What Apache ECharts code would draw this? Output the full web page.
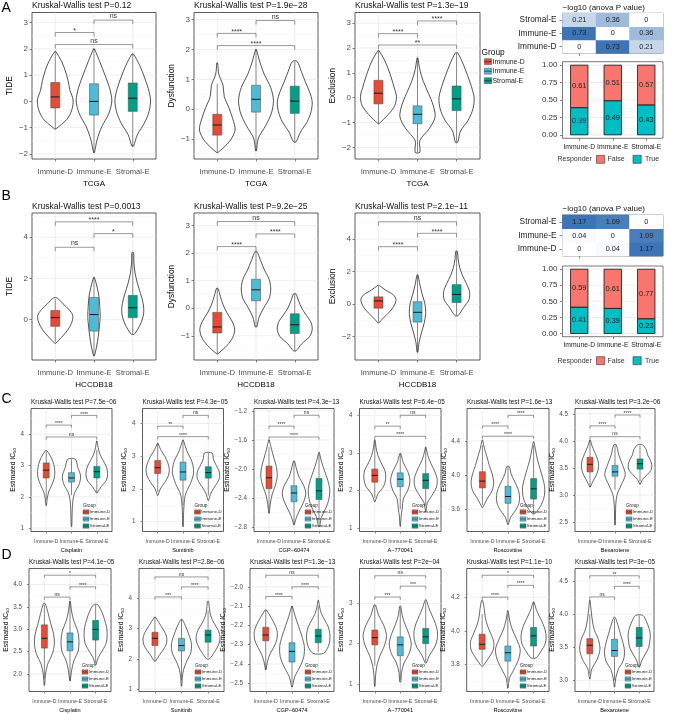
<!DOCTYPE html>
<html><head><meta charset="utf-8">
<script src="https://cdn.jsdelivr.net/npm/echarts@6/dist/echarts.min.js"></script>
<style>html,body{margin:0;padding:0;background:#fff}#c{width:678px;height:714px}</style>
</head><body><div id="c"></div>
<script>
// ---------------- DATA ----------------
const groups = ['Immune-D', 'Immune-E', 'Stromal-E'];
const datasetA = 'TCGA';
const datasetB = 'HCCDB18';
const yNamesAB = ['TIDE', 'Dysfunction', 'Exclusion'];
const titlesA = ['Kruskal-Wallis test P=0.12', 'Kruskal-Wallis test P=1.9e\u221228', 'Kruskal-Wallis test P=1.3e\u221219'];
const titlesB = ['Kruskal-Wallis test P=0.0013', 'Kruskal-Wallis test P=9.2e\u221225', 'Kruskal-Wallis test P=2.1e\u221211'];
const drugs = ['Cisplatin', 'Sunitinib', 'CGP\u221260474', 'A\u2212770041', 'Roscovitine', 'Bexarotene'];
const titlesC = ['Kruskal-Wallis test P=7.5e\u221206', 'Kruskal-Wallis test P=4.3e\u221205', 'Kruskal-Wallis test P=4.3e\u221213', 'Kruskal-Wallis test P=6.4e\u221205', 'Kruskal-Wallis test P=1.6e\u221213', 'Kruskal-Wallis test P=3.2e\u221206'];
const titlesD = ['Kruskal-Wallis test P=4.1e\u221205', 'Kruskal-Wallis test P=2.8e\u221206', 'Kruskal-Wallis test P=1.3e\u221213', 'Kruskal-Wallis test P=2e\u221204', 'Kruskal-Wallis test P=1.1e\u221210', 'Kruskal-Wallis test P=3e\u221205'];

// y tick values, decimals, y ranges
const ticksA = [[-2,-1,0,1,2,3], [-1,0,1,2,3], [-2,-1,0,1,2,3]];
const decA = [0,0,0];
const rangesA = [[-2.19,3.38], [-1.67,3.24], [-2.47,3.43]];
const ticksB = [[0,2,4], [-1,0,1,2,3], [-2,0,2,4]];
const decB = [0,0,0];
const rangesB = [[-1.95,5.17], [-1.88,3.46], [-3.43,5.6]];
const ticksC = [[1,2,3,4], [1,2,3,4], [-2.8,-2.4,-2.0,-1.6,-1.2], [1,2,3,4], [3.6,4.0,4.4], [2.5,3.0,3.5,4.0,4.5]];
const decC = [0,0,1,0,1,1];
const rangesC = [[0.89,4.82], [0.7,4.46], [-2.86,-1.167], [0.91,4.18], [3.34,4.78], [2.33,4.6]];
const ticksD = [[2.0,2.5,3.0,3.5,4.0], [1,2,3,4], [-2.5,-2.4,-2.3,-2.2,-2.1,-2.0], [1,2,3], [3.8,4.0,4.2], [3.0,3.5,4.0,4.5]];
const decD = [1,0,1,0,1,1];
const rangesD = [[1.61,4.36], [0.92,4.99], [-2.543,-1.905], [0.81,3.87], [3.64,4.37], [2.83,4.69]];

// violins: [group (1..3), ymin, ymax, half-widths at evenly spaced levels from ymin to ymax]
const violinsA = [
  [[1,-1.05,1.9,[0.01,0.3,0.43,0.46,0.38,0.33,0.26,0.16,0.01]],
   [2,-1.95,2.0,[0.01,0.08,0.2,0.38,0.46,0.4,0.28,0.15,0.01]],
   [3,-1.7,1.8,[0.02,0.12,0.3,0.42,0.46,0.4,0.3,0.18,0.02]]],
  [[1,-1.45,1.55,[0.02,0.32,0.46,0.4,0.3,0.18,0.15,0.04,0.01]],
   [2,-1.4,2.0,[0.01,0.06,0.25,0.4,0.45,0.38,0.22,0.1,0.01]],
   [3,-1.1,1.6,[0.03,0.15,0.32,0.42,0.45,0.38,0.27,0.17,0.06]]],
  [[1,-1.05,1.9,[0.01,0.25,0.42,0.46,0.4,0.33,0.25,0.15,0.01]],
   [2,-2.2,1.6,[0.06,0.06,0.3,0.45,0.4,0.28,0.15,0.06,0.01]],
   [3,-1.8,1.8,[0.03,0.1,0.3,0.42,0.45,0.38,0.28,0.17,0.03]]]
];
const violinsB = [
  [[1,-1.15,1.05,[0.01,0.15,0.28,0.38,0.44,0.45,0.35,0.2,0.05]],
   [2,-1.75,2.05,[0.01,0.07,0.11,0.14,0.16,0.15,0.13,0.08,0.01]],
   [3,-0.7,3.25,[0.04,0.2,0.28,0.27,0.2,0.12,0.06,0.03,0.02]]],
  [[1,-1.65,0.72,[0.02,0.25,0.4,0.45,0.38,0.25,0.15,0.08,0.02]],
   [2,-0.67,2.07,[0.02,0.08,0.2,0.34,0.38,0.34,0.22,0.12,0.02]],
   [3,-1.55,0.52,[0.03,0.18,0.38,0.45,0.42,0.3,0.18,0.1,0.03]]],
  [[1,-1.15,1.15,[0.01,0.12,0.24,0.35,0.42,0.45,0.38,0.18,0.02]],
   [2,-2.95,1.8,[0.01,0.04,0.1,0.17,0.21,0.19,0.12,0.06,0.01]],
   [3,-0.7,3.25,[0.04,0.18,0.32,0.33,0.25,0.15,0.08,0.04,0.02]]]
];
const violinsC = [
  [[1,1.72,3.47,[0.01,0.04,0.1,0.22,0.32,0.34,0.3,0.2,0.03]],
   [2,1.05,3.2,[0.01,0.02,0.03,0.05,0.12,0.3,0.36,0.25,0.15]],
   [3,2.12,3.78,[0.01,0.18,0.38,0.43,0.38,0.25,0.12,0.05,0.01]]],
  [[1,1.8,3.4,[0.01,0.1,0.28,0.42,0.46,0.4,0.28,0.12,0.01]],
   [2,0.85,3.5,[0.01,0.02,0.04,0.1,0.3,0.42,0.35,0.15,0.01]],
   [3,1.65,3.1,[0.01,0.08,0.2,0.36,0.45,0.42,0.3,0.2,0.15]]],
  [[1,-2.61,-1.6,[0.01,0.05,0.12,0.25,0.33,0.3,0.2,0.1,0.01]],
   [2,-2.77,-1.89,[0.01,0.1,0.25,0.4,0.47,0.38,0.2,0.1,0.02]],
   [3,-2.79,-1.77,[0.02,0.1,0.28,0.4,0.43,0.35,0.22,0.1,0.01]]],
  [[1,1.7,3.35,[0.01,0.12,0.35,0.43,0.4,0.25,0.12,0.05,0.01]],
   [2,1.05,2.98,[0.01,0.03,0.08,0.12,0.3,0.38,0.3,0.12,0.02]],
   [3,1.45,3.15,[0.01,0.06,0.25,0.42,0.45,0.35,0.2,0.08,0.01]]],
  [[1,3.62,4.41,[0.01,0.18,0.38,0.44,0.38,0.27,0.18,0.08,0.01]],
   [2,3.42,4.1,[0.01,0.1,0.3,0.43,0.45,0.38,0.25,0.12,0.05]],
   [3,3.55,4.39,[0.05,0.3,0.42,0.43,0.35,0.25,0.15,0.08,0.01]]],
  [[1,3.15,4.02,[0.01,0.12,0.25,0.33,0.34,0.28,0.18,0.08,0.01]],
   [2,2.45,3.93,[0.01,0.02,0.03,0.08,0.25,0.41,0.3,0.15,0.05]],
   [3,3.2,3.93,[0.01,0.1,0.3,0.45,0.47,0.4,0.3,0.25,0.1]]]
];
const violinsD = [
  [[1,1.75,3.58,[0.01,0.04,0.12,0.3,0.39,0.36,0.25,0.15,0.03]],
   [2,1.85,3.63,[0.01,0.06,0.15,0.32,0.35,0.3,0.15,0.06,0.01]],
   [3,2.2,3.55,[0.01,0.1,0.28,0.42,0.45,0.43,0.35,0.25,0.08]]],
  [[1,1.92,3.38,[0.02,0.15,0.3,0.42,0.45,0.4,0.28,0.15,0.02]],
   [2,1.1,3.3,[0.01,0.03,0.08,0.2,0.35,0.38,0.3,0.18,0.03]],
   [3,2.0,3.9,[0.05,0.25,0.4,0.45,0.38,0.22,0.1,0.05,0.02]]],
  [[1,-2.43,-2.12,[0.01,0.06,0.15,0.3,0.42,0.44,0.35,0.2,0.02]],
   [2,-2.52,-2.1,[0.01,0.1,0.3,0.45,0.47,0.38,0.25,0.12,0.01]],
   [3,-2.345,-2.07,[0.2,0.38,0.44,0.44,0.38,0.25,0.12,0.05,0.01]]],
  [[1,0.94,2.96,[0.01,0.03,0.08,0.2,0.38,0.46,0.35,0.15,0.03]],
   [2,1.05,2.93,[0.02,0.05,0.15,0.35,0.43,0.35,0.2,0.08,0.02]],
   [3,1.52,3.09,[0.02,0.15,0.35,0.45,0.46,0.38,0.25,0.12,0.02]]],
  [[1,3.79,4.18,[0.02,0.25,0.43,0.45,0.33,0.2,0.12,0.08,0.02]],
   [2,3.66,4.12,[0.01,0.06,0.25,0.42,0.48,0.35,0.18,0.07,0.01]],
   [3,3.84,4.17,[0.1,0.3,0.45,0.49,0.45,0.35,0.22,0.1,0.02]]],
  [[1,3.02,4.21,[0.01,0.08,0.3,0.41,0.35,0.18,0.1,0.05,0.01]],
   [2,2.9,3.95,[0.01,0.05,0.15,0.35,0.41,0.35,0.25,0.15,0.03]],
   [3,3.2,3.98,[0.02,0.1,0.25,0.38,0.43,0.45,0.4,0.3,0.15]]]
];

// boxes: [group, lower whisker, q1, median, q3, upper whisker]
const boxesA = [
  [[1,-1.05,-0.25,0.17,0.72,1.9],[2,-1.95,-0.52,0.0,0.67,2.0],[3,-1.7,-0.38,0.12,0.7,1.8]],
  [[1,-1.45,-0.87,-0.53,-0.17,0.85],[2,-1.35,-0.1,0.33,0.8,2.0],[3,-1.1,-0.14,0.27,0.77,1.6]],
  [[1,-1.05,-0.25,0.18,0.7,1.9],[2,-2.2,-1.05,-0.67,-0.33,1.6],[3,-1.8,-0.52,-0.05,0.47,1.8]]
];
const boxesB = [
  [[1,-1.1,-0.32,0.1,0.45,1.0],[2,-1.75,-0.55,0.25,1.08,2.05],[3,-0.7,0.1,0.58,1.18,3.2]],
  [[1,-1.65,-0.9,-0.68,-0.15,0.72],[2,-0.67,0.27,0.67,1.05,2.07],[3,-1.55,-0.92,-0.6,-0.2,0.52]],
  [[1,-1.1,-0.25,0.2,0.45,1.1],[2,-2.95,-1.1,-0.5,0.15,1.8],[3,-0.7,0.1,0.6,1.2,3.25]]
];
const boxesC = [
  [[1,1.9,2.6,2.85,3.08,3.45],[2,2.05,2.47,2.6,2.77,3.2],[3,2.15,2.6,2.8,2.97,3.5]],
  [[1,1.9,2.47,2.65,2.87,3.4],[2,1.5,2.27,2.52,2.82,3.45],[3,1.8,2.33,2.5,2.68,3.1]],
  [[1,-2.55,-2.27,-2.12,-1.96,-1.7],[2,-2.75,-2.45,-2.33,-2.23,-1.9],[3,-2.75,-2.42,-2.3,-2.13,-1.8]],
  [[1,1.8,2.22,2.4,2.57,3.3],[2,1.5,2.1,2.3,2.47,2.98],[3,1.6,2.05,2.27,2.45,3.15]],
  [[1,3.65,3.85,3.93,4.04,4.35],[2,3.45,3.67,3.75,3.87,4.1],[3,3.55,3.72,3.84,3.96,4.35]],
  [[1,3.15,3.43,3.57,3.7,4.0],[2,3.1,3.35,3.43,3.55,3.93],[3,3.25,3.48,3.58,3.67,3.92]]
];
const boxesD = [
  [[1,1.9,2.58,2.8,3.1,3.55],[2,1.85,2.52,2.72,2.92,3.6],[3,2.25,2.76,3.0,3.2,3.55]],
  [[1,1.95,2.44,2.68,2.88,3.38],[2,1.3,2.26,2.44,2.68,3.3],[3,2.05,2.55,2.79,2.95,3.6]],
  [[1,-2.43,-2.28,-2.25,-2.21,-2.12],[2,-2.5,-2.39,-2.335,-2.29,-2.1],[3,-2.34,-2.29,-2.255,-2.22,-2.1]],
  [[1,1.45,1.97,2.15,2.34,2.95],[2,1.1,1.7,1.97,2.17,2.9],[3,1.55,2.0,2.17,2.38,3.05]],
  [[1,3.8,3.89,3.92,3.98,4.1],[2,3.7,3.82,3.87,3.91,4.1],[3,3.84,3.91,3.97,4.02,4.17]],
  [[1,3.1,3.4,3.53,3.63,4.0],[2,3.0,3.36,3.45,3.62,3.93],[3,3.2,3.51,3.64,3.8,3.98]]
];

// significance brackets: [group from, group to, y, label]
const bracketsA = [
  [[1,2,2.62,'*'],[2,3,3.09,'ns'],[1,3,2.16,'ns']],
  [[1,2,2.54,'****'],[2,3,2.97,'ns'],[1,3,2.13,'****']],
  [[1,2,2.58,'****'],[2,3,3.09,'****'],[1,3,2.12,'**']]
];
const bracketsB = [
  [[1,3,4.74,'****'],[2,3,4.17,'*'],[1,2,3.51,'ns']],
  [[1,3,3.15,'ns'],[2,3,2.7,'****'],[1,2,2.24,'****']],
  [[1,3,5.06,'ns'],[2,3,4.35,'****'],[1,2,3.53,'****']]
];
const bracketsC = [
  [[1,2,4.29,'****'],[2,3,4.6,'****'],[1,3,3.91,'ns']],
  [[1,2,3.92,'**'],[2,3,4.25,'ns'],[1,3,3.6,'****']],
  [[1,2,-1.41,'****'],[2,3,-1.26,'ns'],[1,3,-1.56,'****']],
  [[1,2,3.71,'**'],[2,3,4.0,'ns'],[1,3,3.44,'****']],
  [[1,2,4.575,'****'],[2,3,4.70,'****'],[1,3,4.455,'****']],
  [[1,2,4.28,'****'],[2,3,4.48,'****'],[1,3,4.08,'ns']]
];
const bracketsD = [
  [[1,3,4.21,'*'],[2,3,3.95,'****'],[1,2,3.72,'ns']],
  [[1,3,4.71,'ns'],[2,3,4.38,'****'],[1,2,4.05,'***']],
  [[1,3,-1.94,'ns'],[2,3,-2.0,'****'],[1,2,-2.05,'****']],
  [[1,3,3.69,'ns'],[2,3,3.43,'***'],[1,2,3.16,'***']],
  [[1,3,4.33,'*'],[2,3,4.27,'****'],[1,2,4.2,'****']],
  [[1,3,4.58,'**'],[2,3,4.42,'****'],[1,2,4.26,'ns']]
];

// -log10(anova P) heatmaps, rows bottom->top = Immune-D, Immune-E, Stromal-E
const heatTitle = '\u2212log10 (anova P value)';
const heatA = [[0,0.73,0.21],[0.73,0,0.36],[0.21,0.36,0]];
const heatB = [[0,0.04,1.17],[0.04,0,1.09],[1.17,1.09,0]];
// responder proportions
const respTrueA = [0.39,0.49,0.43];
const respFalseA = [0.61,0.51,0.57];
const respTrueB = [0.41,0.39,0.23];
const respFalseB = [0.59,0.61,0.77];
const respTicks = [0,0.25,0.5,0.75,1];
const respLevels = ['False','True'];

// ---------------- STYLE / LAYOUT ----------------
const FONT = '"Liberation Sans", Arial, Helvetica, sans-serif';
const GROUP_COLORS = ['#E64B35','#4DBBD5','#00A087'];
const RESP_COLORS = ['#F8766D','#00BFC4'];
const ST_AB = {tick:2.5, lab:7.6, labOff:8.6, xNameGap:20.5, xName:8, yName:8.3, yNameGap:18.5, yLab:8, yMargin:4,
  title:8.5, titleDy:6.5, brFont:7, brDrop:4, boxW:9, vLW:0.8, inLegend:false};
const ST_CD = {tick:2, lab:5.2, labOff:7.6, xNameGap:15.5, xName:5.6, yName:6.8, yNameGap:13, yLab:6.3, yMargin:7,
  title:6.4, titleDy:6, brFont:5, brDrop:2.7, boxW:6, vLW:0.7, inLegend:true};
const rowA = {top:12.5, bottom:159, xs:[[32,156],[194,318],[355,480]]};
const rowB = {top:213, bottom:360, xs:[[32,156],[194,318],[355,480]]};
const rowC = {top:408.5, bottom:531.5, xs:[[31,112],[142.5,223.5],[254,334],[359.5,441],[467,549],[575,655]]};
const rowD = {top:568.5, bottom:691.5, xs:[[29,111],[139,224],[250,334],[359.5,441],[466.7,549],[575,654]]};

const option = {animation:false, backgroundColor:'#ffffff', grid:[], xAxis:[], yAxis:[], series:[], visualMap:[], graphic:[]};
const G = option.graphic;

function txt(x, y, text, size, o) {
  o = o || {};
  G.push({type:'text', x:x, y:y, rotation:o.rotation||0, silent:true, z:100,
    style:{text:text, fontSize:size, fontFamily:FONT, fill:o.color||'#000',
      align:o.align||'left', textAlign:o.align||'left', verticalAlign:o.va||'middle', textVerticalAlign:o.va||'middle'}});
}
function rect(x, y, w, h, fill, stroke, lw) {
  G.push({type:'rect', silent:true, z:100, shape:{x:x, y:y, width:w, height:h}, style:{fill:fill, stroke:stroke||null, lineWidth:lw||0}});
}
function line(x1, y1, x2, y2, stroke, lw) {
  G.push({type:'line', silent:true, z:101, shape:{x1:x1, y1:y1, x2:x2, y2:y2}, style:{stroke:stroke, lineWidth:lw}});
}
function fmtTick(v, dec) { return (v < -1e-9 ? '\u2212' : '') + Math.abs(v).toFixed(dec); }
function minorValues(ticks, range) {
  const step = ticks[1] - ticks[0];
  const mids = [ticks[0] - step/2];
  for (let i = 0; i < ticks.length - 1; i++) mids.push((ticks[i] + ticks[i+1]) / 2);
  mids.push(ticks[ticks.length-1] + step/2);
  return mids.filter(v => v > range[0] && v < range[1]);
}
function gridBg(gi, ticks, range, xs) {
  const minors = minorValues(ticks, range);
  option.series.push({type:'custom', xAxisIndex:gi, yAxisIndex:gi, silent:true, z:1, data:[[xs[0], range[0]]], encode:{x:0, y:1},
    renderItem:function(params, api) {
      const cs = params.coordSys, ch = [];
      minors.forEach(v => { const y = api.coord([xs[0], v])[1];
        ch.push({type:'line', shape:{x1:cs.x, y1:y, x2:cs.x+cs.width, y2:y}, style:{stroke:'#f3f3f3', lineWidth:0.5}}); });
      ticks.forEach(v => { const y = api.coord([xs[0], v])[1];
        ch.push({type:'line', shape:{x1:cs.x, y1:y, x2:cs.x+cs.width, y2:y}, style:{stroke:'#e6e6e6', lineWidth:0.7}}); });
      xs.forEach(c => { const x = api.coord([c, range[0]])[0];
        ch.push({type:'line', shape:{x1:x, y1:cs.y, x2:x, y2:cs.y+cs.height}, style:{stroke:'#e6e6e6', lineWidth:0.7}}); });
      return {type:'group', children:ch};
    }});
}
// category tick labels under a panel, placed through the axis scale
function xLabels(gi, range, font, offset, color) {
  option.series.push({type:'custom', xAxisIndex:gi, yAxisIndex:gi, silent:true, z:5, clip:false,
    data:groups.map((g, i) => [i + 1, range[0]]), encode:{x:0, y:1},
    renderItem:function(params, api) {
      const cs = params.coordSys;
      const x = api.coord([params.dataIndex + 1, range[0]])[0];
      return {type:'text', style:{text:groups[params.dataIndex], x:x, y:cs.y + cs.height + offset, align:'center', textAlign:'center',
        verticalAlign:'top', textVerticalAlign:'top', fontSize:font, fontFamily:FONT, fill:color}};
    }});
}

function addViolinPanel(x0, x1, top, bottom, title, yName, xName, ticks, dec, range, violins, boxes, brackets, st) {
  const gi = option.grid.length;
  option.grid.push({left:x0, top:top, width:x1-x0, height:bottom-top, show:true, borderColor:'#333333', borderWidth:0.8, backgroundColor:'#ffffff'});
  option.xAxis.push({gridIndex:gi, type:'value', min:0.4, max:3.6, position:'bottom',
    axisLine:{show:false, onZero:false}, splitLine:{show:false},
    axisTick:{show:true, length:st.tick, customValues:[1,2,3], lineStyle:{color:'#333', width:0.6}},
    axisLabel:{show:false},
    name:xName, nameLocation:'middle', nameGap:st.xNameGap, nameTextStyle:{fontSize:st.xName, fontFamily:FONT, color:'#000'}});
  const yNameObj = st.inLegend ?
    {name:'{a|Estimated IC}{b|50}', nameTextStyle:{fontFamily:FONT, color:'#000', rich:{a:{fontSize:st.yName, fontFamily:FONT}, b:{fontSize:st.yName*0.62, fontFamily:FONT, verticalAlign:'bottom', padding:[st.yName*0.45,0,0,0]}}}} :
    {name:yName, nameTextStyle:{fontSize:st.yName, fontFamily:FONT, color:'#000'}};
  option.yAxis.push(Object.assign({gridIndex:gi, type:'value', min:range[0], max:range[1],
    axisLine:{show:false, onZero:false}, splitLine:{show:false},
    axisTick:{show:true, length:st.tick, customValues:ticks, lineStyle:{color:'#333', width:0.6}},
    axisLabel:{show:true, customValues:ticks, showMinLabel:true, showMaxLabel:true, hideOverlap:false,
      formatter:v => fmtTick(v, dec), fontSize:st.yLab, fontFamily:FONT, color:'#4d4d4d', margin:st.yMargin},
    nameLocation:'middle', nameGap:st.yNameGap}, yNameObj));
  gridBg(gi, ticks, range, [1,2,3]);
  xLabels(gi, range, st.lab, st.labOff, '#4d4d4d');
  // violins
  option.series.push({type:'custom', xAxisIndex:gi, yAxisIndex:gi, silent:true, z:2,
    data:violins.map(v => [v[0], v[1], v[2]]), encode:{x:0, y:[1,2]},
    renderItem:function(params, api) {
      const v = violins[params.dataIndex], w = v[3], n = w.length;
      const unit = api.size([1, 0])[0];
      const right = [], left = [];
      for (let k = 0; k < n; k++) {
        const pt = api.coord([v[0], v[1] + (v[2]-v[1]) * k / (n-1)]);
        right.push([pt[0] + w[k]*unit, pt[1]]);
        left.push([pt[0] - w[k]*unit, pt[1]]);
      }
      return {type:'polygon', shape:{points:right.concat(left.reverse()), smooth:0.3},
        style:{fill:'#ffffff', stroke:'#262626', lineWidth:st.vLW}};
    }});
  // boxes
  option.series.push({type:'custom', xAxisIndex:gi, yAxisIndex:gi, silent:true, z:3,
    data:boxes.map(b => [b[0], b[1], b[5]]), encode:{x:0, y:[1,2]},
    renderItem:function(params, api) {
      const b = boxes[params.dataIndex];
      const x = api.coord([b[0], b[3]])[0];
      const yy = b.slice(1).map(v => api.coord([b[0], v])[1]);
      const hw = st.boxW / 2;
      return {type:'group', children:[
        {type:'line', shape:{x1:x, y1:yy[0], x2:x, y2:yy[1]}, style:{stroke:'#333', lineWidth:0.6}},
        {type:'line', shape:{x1:x, y1:yy[3], x2:x, y2:yy[4]}, style:{stroke:'#333', lineWidth:0.6}},
        {type:'rect', shape:{x:x-hw, y:yy[3], width:st.boxW, height:yy[1]-yy[3]}, style:{fill:GROUP_COLORS[b[0]-1], stroke:'#444', lineWidth:0.5}},
        {type:'line', shape:{x1:x-hw, y1:yy[2], x2:x+hw, y2:yy[2]}, style:{stroke:'#1a1a1a', lineWidth:1}}
      ]};
    }});
  // brackets
  option.series.push({type:'custom', xAxisIndex:gi, yAxisIndex:gi, silent:true, z:4,
    data:brackets.map(b => [b[0], b[2]]), encode:{x:0, y:1},
    renderItem:function(params, api) {
      const b = brackets[params.dataIndex];
      const p1 = api.coord([b[0], b[2]]), p2 = api.coord([b[1], b[2]]);
      const star = b[3].indexOf('*') >= 0;
      return {type:'group', children:[
        {type:'polyline', shape:{points:[[p1[0], p1[1]+st.brDrop], [p1[0], p1[1]], [p2[0], p2[1]], [p2[0], p2[1]+st.brDrop]]}, style:{stroke:'#555', lineWidth:0.6, fill:null}},
        {type:'text', style:{text:b[3], x:(p1[0]+p2[0])/2, y:p1[1] + (star ? st.brFont*0.25 : -0.3), align:'center', textAlign:'center', verticalAlign:'bottom', textVerticalAlign:'bottom', fontSize:st.brFont, fontFamily:FONT, fill:'#333'}}
      ]};
    }});
  // title
  txt(x0, top - st.titleDy, title, st.title, {color:'#111'});
  // inner legend
  if (st.inLegend) {
    const kx = x1 - 29;
    txt(kx, bottom - 26, 'Group', 4.6, {color:'#222'});
    groups.forEach((g, i) => {
      const yc = bottom - 19.5 + i * 7;
      rect(kx, yc - 2.2, 6, 4.4, GROUP_COLORS[i], '#555', 0.4);
      line(kx, yc, kx + 6, yc, '#222', 0.5);
      txt(kx + 6.8, yc, g, 4.4, {color:'#222'});
    });
  }
}

function addHeatmap(x0, x1, top, bottom, vals, maxV) {
  const gi = option.grid.length;
  option.grid.push({left:x0, top:top, width:x1-x0, height:bottom-top, show:true, borderColor:'#555', borderWidth:0.8, backgroundColor:'#ffffff'});
  option.xAxis.push({gridIndex:gi, type:'category', data:groups, axisLine:{show:false, onZero:false},
    axisTick:{show:true, length:2.5, alignWithLabel:true, lineStyle:{color:'#333', width:0.6}}, axisLabel:{show:false}, splitLine:{show:false}});
  option.yAxis.push({gridIndex:gi, type:'category', data:groups, axisLine:{show:false, onZero:false},
    axisTick:{show:true, length:3, alignWithLabel:true, lineStyle:{color:'#333', width:0.6}},
    axisLabel:{fontSize:8.3, fontFamily:FONT, color:'#222', margin:6, interval:0}, splitLine:{show:false}});
  const data = [];
  vals.forEach((row, yi) => row.forEach((v, xi) => data.push([xi, yi, v])));
  const si = option.series.length;
  option.series.push({type:'heatmap', xAxisIndex:gi, yAxisIndex:gi, data:data, silent:true,
    label:{show:true, formatter:p => (p.value[2] === 0 ? '0' : p.value[2].toFixed(2)), fontSize:7.3, fontFamily:FONT, color:'#222'},
    itemStyle:{borderWidth:0}, emphasis:{disabled:true}});
  option.visualMap.push({show:false, type:'continuous', seriesIndex:si, dimension:2, min:0, max:maxV, inRange:{color:['#ffffff','#3c74b6']}});
  txt(x0, top - 6, heatTitle, 8, {color:'#111'});
}

function addResponder(x0, x1, top, bottom, trueV, falseV, legendY) {
  const gi = option.grid.length;
  const range = [-0.05, 1.05];
  option.grid.push({left:x0, top:top, width:x1-x0, height:bottom-top, show:true, borderColor:'#555', borderWidth:0.8, backgroundColor:'#ffffff'});
  option.xAxis.push({gridIndex:gi, type:'value', min:0.5, max:3.5, axisLine:{show:false, onZero:false}, splitLine:{show:false},
    axisTick:{show:true, length:2.5, customValues:[1,2,3], lineStyle:{color:'#333', width:0.6}},
    axisLabel:{show:false}});
  option.yAxis.push({gridIndex:gi, type:'value', min:range[0], max:range[1], axisLine:{show:false, onZero:false}, splitLine:{show:false},
    axisTick:{show:true, length:2.5, customValues:respTicks, lineStyle:{color:'#333', width:0.6}},
    axisLabel:{customValues:respTicks, showMinLabel:true, showMaxLabel:true, hideOverlap:false,
      formatter:v => v.toFixed(2), fontSize:8, fontFamily:FONT, color:'#333', margin:5}});
  gridBg(gi, respTicks, range, [1,2,3]);
  xLabels(gi, range, 6.8, 5, '#222');
  option.series.push({type:'custom', xAxisIndex:gi, yAxisIndex:gi, silent:true, z:3,
    data:trueV.map((t, i) => [i+1, t]), encode:{x:0, y:1},
    renderItem:function(params, api) {
      const i = params.dataIndex, c = i + 1, t = trueV[i], f = falseV[i];
      const half = api.size([0.26, 0])[0];
      const x = api.coord([c, 0])[0];
      const y0 = api.coord([c, 0])[1], yt = api.coord([c, t])[1], yf = api.coord([c, t + f])[1];
      const mk = (yA, yB, col) => ({type:'rect', shape:{x:x-half, y:yB, width:2*half, height:yA-yB}, style:{fill:col, stroke:'#111', lineWidth:0.8}});
      const lb = (yc, s) => ({type:'text', style:{text:s, x:x, y:yc, align:'center', textAlign:'center', verticalAlign:'middle', textVerticalAlign:'middle', fontSize:7.4, fontFamily:FONT, fill:'#222'}});
      return {type:'group', children:[mk(y0, yt, RESP_COLORS[1]), mk(yt, yf, RESP_COLORS[0]), lb((y0+yt)/2, t.toFixed(2)), lb((yt+yf)/2, f.toFixed(2))]};
    }});
  // legend
  txt(557.5, legendY, 'Responder', 7, {color:'#333'});
  rect(596.5, legendY - 4, 8.2, 8, RESP_COLORS[0], '#333', 0.6);
  txt(607.5, legendY, respLevels[0], 7, {color:'#333'});
  rect(633, legendY - 4, 8.2, 8, RESP_COLORS[1], '#333', 0.6);
  txt(645, legendY, respLevels[1], 7, {color:'#333'});
}

// ---------------- BUILD ----------------
for (let i = 0; i < 3; i++) {
  addViolinPanel(rowA.xs[i][0], rowA.xs[i][1], rowA.top, rowA.bottom, titlesA[i], yNamesAB[i], datasetA, ticksA[i], decA[i], rangesA[i], violinsA[i], boxesA[i], bracketsA[i], ST_AB);
  addViolinPanel(rowB.xs[i][0], rowB.xs[i][1], rowB.top, rowB.bottom, titlesB[i], yNamesAB[i], datasetB, ticksB[i], decB[i], rangesB[i], violinsB[i], boxesB[i], bracketsB[i], ST_AB);
}
for (let i = 0; i < 6; i++) {
  addViolinPanel(rowC.xs[i][0], rowC.xs[i][1], rowC.top, rowC.bottom, titlesC[i], '', drugs[i], ticksC[i], decC[i], rangesC[i], violinsC[i], boxesC[i], bracketsC[i], ST_CD);
  addViolinPanel(rowD.xs[i][0], rowD.xs[i][1], rowD.top, rowD.bottom, titlesD[i], '', drugs[i], ticksD[i], decD[i], rangesD[i], violinsD[i], boxesD[i], bracketsD[i], ST_CD);
}
addHeatmap(562.5, 663, 13.3, 53.3, heatA, 0.73);
addResponder(562.5, 663, 61.7, 138.3, respTrueA, respFalseA, 159.3);
addHeatmap(562.5, 663, 215, 256, heatB, 1.17);
addResponder(562.5, 663, 266, 336.7, respTrueB, respFalseB, 360.7);

// Group legend for rows A
txt(481.5, 52.7, 'Group', 8.4, {color:'#111'});
groups.forEach((g, i) => {
  const yc = 61.7 + i * 9.5;
  rect(484.3, yc - 3, 7.4, 6, GROUP_COLORS[i], '#555', 0.5);
  line(484.3, yc, 491.7, yc, '#222', 0.7);
  txt(492.5, yc, g, 6.9, {color:'#222'});
});
// panel letters
[['A',8],['B',196],['C',399.5],['D',555]].forEach(a => txt(1.5, a[1], a[0], 14, {color:'#000'}));

const chart = echarts.init(document.getElementById('c'), null, {renderer:'canvas', width:678, height:714});
chart.setOption(option);
</script></body></html>
